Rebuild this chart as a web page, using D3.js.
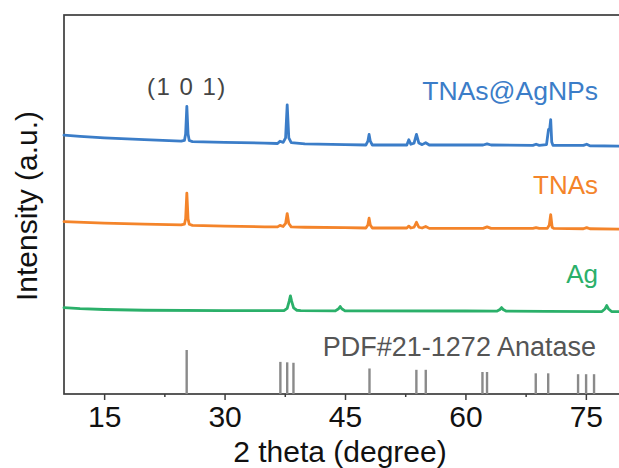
<!DOCTYPE html>
<html>
<head>
<meta charset="utf-8">
<script src="https://cdn.jsdelivr.net/npm/d3@7"></script>
<style>
  html, body { margin: 0; padding: 0; background: #fff; }
  svg { display: block; font-family: Arial, "Liberation Sans", sans-serif; }
</style>
</head>
<body>
<svg id="chart" width="619" height="468"></svg>
<script>
// XRD patterns, [2θ (degree), intensity (a.u., offset per trace)]
const tnasAgNPs = [
  [10, 68.3], [12, 68.0], [15, 67.6], [20, 67.1], [24.6, 66.7], [25.0, 66.9],
  [25.15, 68.6], [25.3, 75.9], [25.45, 68.6], [25.6, 66.9], [26.0, 66.6],
  [30, 66.4], [35, 66.2], [36.6, 66.1], [36.9, 66.7], [37.3, 66.4], [37.6, 67.6],
  [37.8, 76.3], [38.0, 67.6], [38.3, 66.3], [40, 66.0], [45, 65.8], [47.6, 65.7],
  [47.85, 66.7], [48.0, 68.5], [48.15, 66.7], [48.4, 65.7], [52.7, 65.7],
  [52.95, 67.1], [53.2, 65.9], [53.6, 66.2], [53.9, 68.5], [54.2, 66.2],
  [54.6, 65.8], [55.05, 66.3], [55.5, 65.7], [60, 65.7], [62.2, 65.7],
  [62.7, 66.0], [63.2, 65.7], [68.4, 65.6], [68.8, 65.9], [69.2, 65.6],
  [70.1, 65.8], [70.35, 69.8], [70.5, 70.0], [70.62, 72.4], [70.75, 66.5],
  [70.9, 65.6], [74.7, 65.6], [75.1, 65.9], [75.5, 65.5], [80, 65.4]
];

const tnas = [
  [10, 45.5], [15, 45.1], [20, 44.8], [24.6, 44.6], [25.0, 44.8], [25.15, 46.2],
  [25.3, 53.0], [25.45, 46.2], [25.6, 44.8], [26.0, 44.5], [30, 44.3], [35, 44.1],
  [36.6, 44.1], [36.9, 44.5], [37.3, 44.2], [37.6, 45.0], [37.8, 47.6], [38.0, 45.0],
  [38.3, 44.1], [40, 44.0], [45, 43.9], [47.6, 43.8], [47.85, 44.6], [48.0, 46.4],
  [48.15, 44.6], [48.4, 43.8], [52.7, 43.8], [52.95, 44.3], [53.2, 43.8],
  [53.6, 44.0], [53.9, 45.3], [54.2, 44.0], [54.6, 43.8], [55.05, 44.2],
  [55.5, 43.7], [60, 43.7], [62.2, 43.7], [62.7, 44.1], [63.2, 43.7],
  [68.4, 43.7], [68.8, 43.9], [69.2, 43.7], [70.2, 43.7], [70.45, 44.6],
  [70.62, 47.3], [70.8, 44.0], [71.0, 43.7], [74.7, 43.6], [75.1, 43.9],
  [75.5, 43.6], [80, 43.5]
];

const ag = [
  [10, 22.8], [12, 22.5], [15, 22.3], [20, 22.1], [30, 22.0], [37.4, 22.0],
  [37.8, 22.6], [38.05, 24.5], [38.2, 25.9], [38.35, 24.5], [38.6, 22.7],
  [39.0, 22.1], [39.5, 22.0], [43.8, 21.95], [44.2, 22.5], [44.4, 23.1],
  [44.6, 22.5], [45.0, 21.95], [60, 21.9], [63.9, 21.85], [64.3, 22.3],
  [64.5, 22.8], [64.7, 22.3], [65.1, 21.85], [70, 21.8], [77.0, 21.75],
  [77.4, 22.5], [77.6, 23.35], [77.8, 22.5], [78.2, 21.75], [80, 21.7]
];

// PDF#21-1272 anatase reference lines: position and relative intensity
const refPositions = [25.28, 36.95, 37.80, 38.58, 48.05, 53.89, 55.06, 62.12, 62.69, 68.76, 70.31, 74.03, 75.03, 76.02];
const refIntensities = [100, 73, 72, 71, 58, 55, 55, 50, 50, 47, 47, 45, 45, 45];

const majorTicks = [15, 30, 45, 60, 75];
const minorTicks = [22.5, 37.5, 52.5, 67.5];

const seriesNames = ["TNAs@AgNPs", "TNAs", "Ag"];
const seriesColors = ["#3b7dc8", "#f4842a", "#2bb06a"];

const svg = d3.select("#chart");
const plotLeft = 64, plotRight = 626, plotTop = 15, plotBottom = 394;

const x = d3.scaleLinear().domain([10, 80]).range([plotLeft, plotRight]);
const y = d3.scaleLinear().domain([0, 100]).range([plotBottom, plotTop]);
const yRef = d3.scaleLinear().domain([0, 100]).range([plotBottom, plotBottom - 44]);

// plot frame
svg.append("rect")
  .attr("x", plotLeft).attr("y", plotTop)
  .attr("width", plotRight - plotLeft).attr("height", plotBottom - plotTop)
  .attr("fill", "none").attr("stroke", "#3d3d3d").attr("stroke-width", 1.7);

// reference sticks
svg.append("g").selectAll("line")
  .data(refPositions.map((p, i) => [p, refIntensities[i]]))
  .join("line")
  .attr("x1", d => x(d[0])).attr("x2", d => x(d[0]))
  .attr("y1", yRef(0)).attr("y2", d => yRef(d[1]))
  .attr("stroke", "#8a8a8a").attr("stroke-width", 2.4);

// patterns
const line = d3.line().x(d => x(d[0])).y(d => y(d[1]));
[tnasAgNPs, tnas, ag].forEach((data, i) => {
  svg.append("path")
    .datum(data)
    .attr("d", line)
    .attr("fill", "none")
    .attr("stroke", seriesColors[i])
    .attr("stroke-width", 2.8)
    .attr("stroke-linejoin", "round")
    .attr("stroke-linecap", "round");
});

// x axis
const xAxis = svg.append("g")
  .attr("transform", `translate(0,${plotBottom})`)
  .call(d3.axisBottom(x).tickValues(majorTicks).tickSize(6).tickPadding(6).tickFormat(d3.format("d")));
xAxis.select(".domain").remove();
xAxis.selectAll(".tick line").attr("stroke", "#3d3d3d").attr("stroke-width", 1.5);
xAxis.selectAll(".tick text")
  .attr("font-size", 30).attr("fill", "#111")
  .attr("font-family", "Arial, 'Liberation Sans', sans-serif");

const xMinor = svg.append("g")
  .attr("transform", `translate(0,${plotBottom})`)
  .call(d3.axisBottom(x).tickValues(minorTicks).tickSize(3).tickFormat(""));
xMinor.select(".domain").remove();
xMinor.selectAll(".tick line").attr("stroke", "#3d3d3d").attr("stroke-width", 1.5);

// axis titles
svg.append("text")
  .attr("x", 340).attr("y", 462)
  .attr("text-anchor", "middle")
  .attr("font-size", 30).attr("fill", "#111")
  .text("2 theta (degree)");

svg.append("text")
  .attr("transform", "translate(36.5,206) rotate(-90)")
  .attr("text-anchor", "middle")
  .attr("font-size", 30).attr("fill", "#111")
  .text("Intensity (a.u.)");

// annotations
svg.append("text")
  .attr("x", x(25.3)).attr("y", 95)
  .attr("text-anchor", "middle")
  .attr("font-size", 24).attr("letter-spacing", 1.5).attr("fill", "#454545")
  .text("(1 0 1)");

const labelY = [100, 194, 283];
seriesNames.forEach((name, i) => {
  svg.append("text")
    .attr("x", 598).attr("y", labelY[i])
    .attr("text-anchor", "end")
    .attr("font-size", i === 0 ? 26.5 : 26).attr("fill", seriesColors[i])
    .text(name);
});

svg.append("text")
  .attr("x", 596).attr("y", 356)
  .attr("text-anchor", "end")
  .attr("font-size", 27).attr("fill", "#555")
  .text("PDF#21-1272 Anatase");
</script>
</body>
</html>
